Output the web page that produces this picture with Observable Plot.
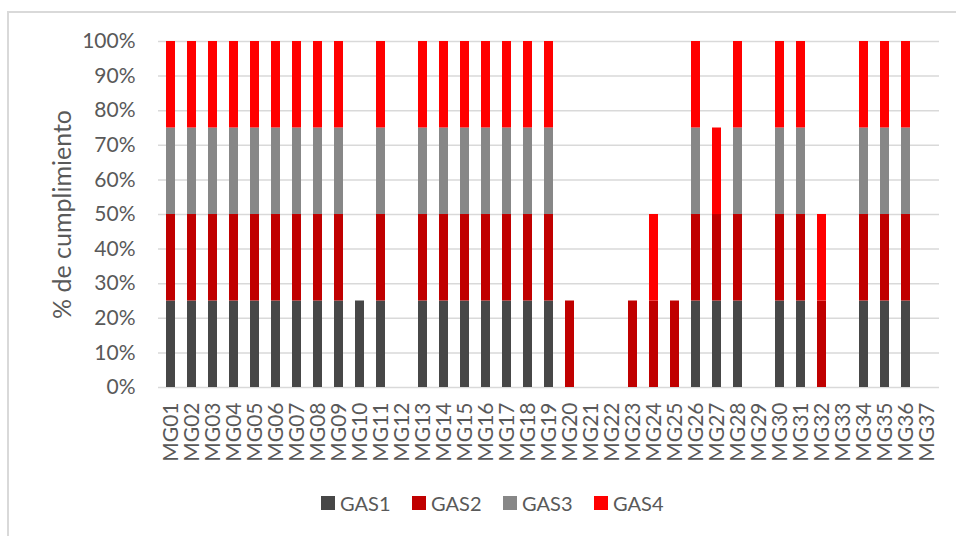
<!DOCTYPE html>
<html>
<head>
<meta charset="utf-8">
<script src="https://cdn.jsdelivr.net/npm/d3@7"></script>
<script src="https://cdn.jsdelivr.net/npm/@observablehq/plot@0.6"></script>
<style>
  body { margin: 0; background: #fff; font-family: Lato, "Liberation Sans", sans-serif; }
  #wrap { position: relative; width: 956px; height: 536px; overflow: hidden; }
  #frame { position: absolute; left: 7px; top: 11px; width: 1000px; height: 600px;
           border-left: 2px solid #d9d9d9; border-top: 2px solid #d9d9d9; }
  #chart { position: absolute; left: 0; top: 0; }
  #legend { position: absolute; left: 321px; top: 491px; display: flex; gap: 0; color: #595959; font-size: 20px; }
  .item { display: flex; align-items: center; width: 91px; }
  .sw { width: 14px; height: 14px; margin-right: 5px; }
</style>
</head>
<body>
<div id="wrap">
  <div id="frame"></div>
  <div id="chart"></div>
  <div id="legend"></div>
</div>
<script>
const categories = ["MG01","MG02","MG03","MG04","MG05","MG06","MG07","MG08","MG09","MG10",
  "MG11","MG12","MG13","MG14","MG15","MG16","MG17","MG18","MG19","MG20",
  "MG21","MG22","MG23","MG24","MG25","MG26","MG27","MG28","MG29","MG30",
  "MG31","MG32","MG33","MG34","MG35","MG36","MG37"];
const seriesNames = ["GAS1","GAS2","GAS3","GAS4"];
const seriesColors = ["#474747","#C00000","#878787","#FF0000"];
const gas1 = [25,25,25,25,25,25,25,25,25,25, 25,0,25,25,25,25,25,25,25,0, 0,0,0,0,0,25,25,25,0,25, 25,0,0,25,25,25,0];
const gas2 = [25,25,25,25,25,25,25,25,25,0, 25,0,25,25,25,25,25,25,25,25, 0,0,25,25,25,25,25,25,0,25, 25,25,0,25,25,25,0];
const gas3 = [25,25,25,25,25,25,25,25,25,0, 25,0,25,25,25,25,25,25,25,0, 0,0,0,0,0,25,0,25,0,25, 25,0,0,25,25,25,0];
const gas4 = [25,25,25,25,25,25,25,25,25,0, 25,0,25,25,25,25,25,25,25,0, 0,0,0,25,0,25,25,25,0,25, 25,25,0,25,25,25,0];
const yTicks = [0,10,20,30,40,50,60,70,80,90,100];
const yTitle = "% de cumplimiento";

const seriesValues = [gas1, gas2, gas3, gas4];
const rows = [];
seriesNames.forEach((s, si) => {
  categories.forEach((c, ci) => {
    const v = seriesValues[si][ci];
    if (v > 0) rows.push({cat: c, series: s, value: v});
  });
});

const chart = Plot.plot({
  width: 956,
  height: 480,
  marginTop: 41,
  marginBottom: 93,
  marginLeft: 158,
  marginRight: 17,
  style: { fontFamily: "Lato, 'Liberation Sans', sans-serif", color: "#595959", background: "transparent" },
  x: { domain: categories, paddingInner: 0.59, paddingOuter: 0.295, label: null },
  y: { domain: [0, 100], label: null },
  color: { domain: seriesNames, range: seriesColors },
  marks: [
    Plot.gridY(yTicks, { stroke: "#d9d9d9", strokeOpacity: 1, strokeWidth: 1.5 }),
    Plot.barY(rows, { x: "cat", y: "value", fill: "series", order: seriesNames }),
    Plot.axisY(yTicks, { tickSize: 0, tickPadding: 23, tickFormat: d => d + "%", fontSize: 21, label: null }),
    Plot.axisX({ tickSize: 0, tickPadding: 15, tickRotate: -90, fontSize: 21, label: null }),
    Plot.text([yTitle], { frameAnchor: "left", dx: -96, rotate: -90, textAnchor: "middle", fontSize: 25, fill: "#595959" })
  ]
});
document.getElementById("chart").appendChild(chart);

const legend = document.getElementById("legend");
seriesNames.forEach((s, i) => {
  const item = document.createElement("div");
  item.className = "item";
  const sw = document.createElement("div");
  sw.className = "sw";
  sw.style.background = seriesColors[i];
  const t = document.createElement("span");
  t.textContent = s;
  item.appendChild(sw);
  item.appendChild(t);
  legend.appendChild(item);
});
</script>
</body>
</html>
